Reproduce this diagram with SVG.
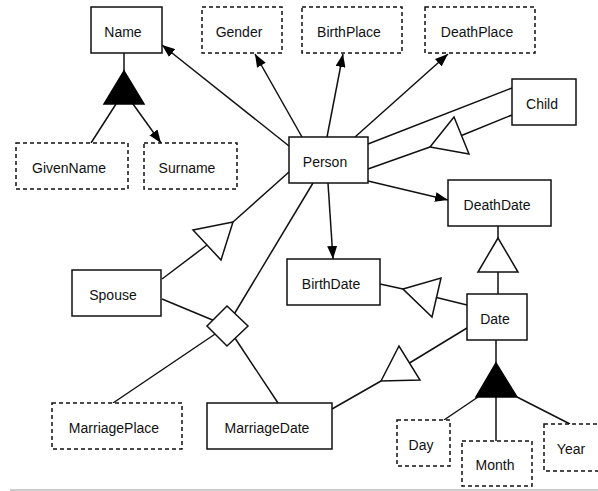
<svg xmlns="http://www.w3.org/2000/svg" width="598" height="491" viewBox="0 0 598 491">
<style>
.box{fill:#fff;stroke:#111;stroke-width:1.5}
.dash{fill:#fff;stroke:#111;stroke-width:1.5;stroke-dasharray:4 3}
.lbl{font-family:"Liberation Sans",Arial,sans-serif;font-size:14px;fill:#111;text-anchor:middle}
.ln{stroke:#111;stroke-width:1.5;fill:none}
.arr{stroke:#111;stroke-width:1.5;fill:none;marker-end:url(#ah)}
.tri{fill:#fff;stroke:#111;stroke-width:1.5;stroke-linejoin:miter}
.ftri{fill:#000;stroke:#000;stroke-width:1.5}
</style>
<defs>
<marker id="ah" markerUnits="userSpaceOnUse" markerWidth="13" markerHeight="10" refX="13" refY="5" orient="auto">
<path d="M0,0 L13,5 L0,10 z" fill="#000"/>
</marker>
</defs>
<rect width="598" height="491" fill="#fff"/>
<g id="connectors">
<line class="ln" x1="124" y1="53" x2="124" y2="71"/>
<line class="ln" x1="116" y1="104" x2="91" y2="143"/>
<line class="arr" x1="133" y1="104" x2="161" y2="143"/>
<line class="arr" x1="289" y1="146" x2="162" y2="45"/>
<line class="arr" x1="302" y1="137" x2="255" y2="54"/>
<line class="arr" x1="327" y1="137" x2="343" y2="54"/>
<line class="arr" x1="355" y1="137" x2="448" y2="54"/>
<line class="ln" x1="368" y1="144" x2="512" y2="88"/>
<line class="ln" x1="368" y1="169" x2="430" y2="147"/>
<line class="ln" x1="461.5" y1="135.5" x2="512" y2="115"/>
<line class="arr" x1="368" y1="181" x2="448" y2="200"/>
<line class="arr" x1="328" y1="183" x2="333" y2="259"/>
<line class="ln" x1="498" y1="226" x2="498" y2="238"/>
<line class="ln" x1="498" y1="272" x2="498" y2="294"/>
<line class="ln" x1="380" y1="284" x2="403" y2="289"/>
<line class="ln" x1="436.5" y1="297.5" x2="467" y2="305"/>
<line class="ln" x1="332" y1="409" x2="381" y2="381"/>
<line class="ln" x1="409.5" y1="363" x2="467" y2="328"/>
<line class="ln" x1="162" y1="279" x2="207" y2="245"/>
<line class="ln" x1="233" y1="222" x2="289" y2="172"/>
<line class="ln" x1="162" y1="299" x2="227" y2="326"/>
<line class="ln" x1="313" y1="183" x2="227" y2="326"/>
<line class="ln" x1="113" y1="403" x2="227" y2="326"/>
<line class="ln" x1="278" y1="403" x2="227" y2="326"/>
<line class="ln" x1="496" y1="340" x2="496" y2="363"/>
<line class="ln" x1="478" y1="397" x2="444" y2="420"/>
<line class="ln" x1="496" y1="397" x2="496" y2="441"/>
<line class="ln" x1="517" y1="397" x2="570" y2="424"/>
<polygon class="ftri" points="124,71 104,104 144,104"/>
<polygon class="tri" points="430,147 454,117 469,154"/>
<polygon class="tri" points="498,238 478,272 518,272"/>
<polygon class="tri" points="403,289 441,278 432,317"/>
<polygon class="tri" points="381,381 399,346 420,380"/>
<polygon class="tri" points="233,222 193,230 221,260"/>
<polygon class="tri" points="227,306 248,326 227,346 207,326"/>
<polygon class="ftri" points="496,363 476,397 517,397"/>
<line x1="10" y1="490" x2="598" y2="490" stroke="#bbb" stroke-width="1.5"/>
</g>
<g id="Name"><rect class="box" x="91" y="7" width="71" height="46"/><text class="lbl" x="123" y="36.5">Name</text></g>
<g id="Gender"><rect class="dash" x="202" y="7" width="80" height="46"/><text class="lbl" x="239" y="36.5">Gender</text></g>
<g id="BirthPlace"><rect class="dash" x="302" y="7" width="100" height="46"/><text class="lbl" x="349" y="36.5">BirthPlace</text></g>
<g id="DeathPlace"><rect class="dash" x="425" y="7" width="110" height="46"/><text class="lbl" x="477" y="36.5">DeathPlace</text></g>
<g id="GivenName"><rect class="dash" x="16" y="143" width="112" height="46"/><text class="lbl" x="69" y="172.5">GivenName</text></g>
<g id="Surname"><rect class="dash" x="144" y="143" width="93" height="46"/><text class="lbl" x="187" y="172.5">Surname</text></g>
<g id="Person"><rect class="box" x="289" y="137" width="79" height="46"/><text class="lbl" x="325" y="166.5">Person</text></g>
<g id="Child"><rect class="box" x="512" y="79" width="64" height="46"/><text class="lbl" x="542" y="108.5">Child</text></g>
<g id="DeathDate"><rect class="box" x="448" y="180" width="103" height="46"/><text class="lbl" x="497" y="209.5">DeathDate</text></g>
<g id="BirthDate"><rect class="box" x="287" y="259" width="93" height="46"/><text class="lbl" x="331" y="288.5">BirthDate</text></g>
<g id="Spouse"><rect class="box" x="72" y="270" width="89" height="46"/><text class="lbl" x="113" y="299.5">Spouse</text></g>
<g id="Date"><rect class="box" x="467" y="294" width="60" height="46"/><text class="lbl" x="495" y="323.5">Date</text></g>
<g id="MarriagePlace"><rect class="dash" x="52" y="403" width="130" height="46"/><text class="lbl" x="114" y="432.5">MarriagePlace</text></g>
<g id="MarriageDate"><rect class="box" x="207" y="403" width="125" height="46"/><text class="lbl" x="267" y="432.5">MarriageDate</text></g>
<g id="Day"><rect class="dash" x="397" y="420" width="53" height="46"/><text class="lbl" x="421" y="449.5">Day</text></g>
<g id="Month"><rect class="dash" x="462" y="441" width="70" height="45"/><text class="lbl" x="495" y="470">Month</text></g>
<g id="Year"><rect class="dash" x="544" y="424" width="60" height="47"/><text class="lbl" x="571" y="453.5">Year</text></g>
</svg>
